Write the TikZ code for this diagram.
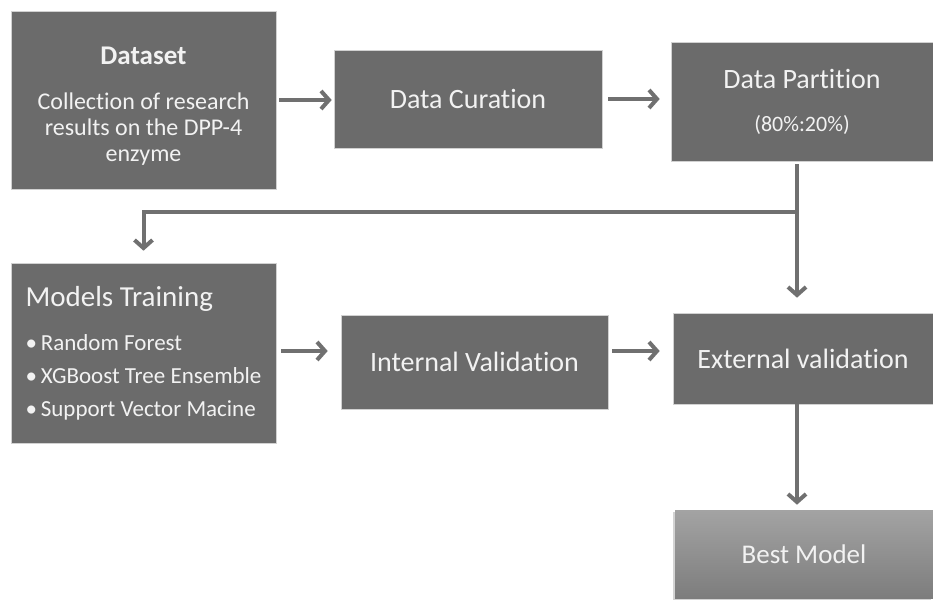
\documentclass[tikz,border=0pt]{standalone}
\usepackage{fontspec}
\setmainfont{Carlito}[Ligatures=NoCommon]
\usetikzlibrary{arrows.meta,shadows}
\definecolor{boxgray}{HTML}{6B6B6B}
\definecolor{arrowgray}{HTML}{707070}
\tikzset{
  stepbox/.style={fill=boxgray, draw=black!18, line width=0.6pt, text=white!95!black,
    inner sep=0pt, font=\fontsize{28}{33}\selectfont},
  flow/.style={draw=arrowgray, line width=4pt, -{Straight Barb[length=8pt,width=18pt]}},
}
\begin{document}
\begin{tikzpicture}[x=1pt,y=-1pt]
\useasboundingbox (0,0) rectangle (933,599);
% top row
\node[stepbox, minimum width=265pt, minimum height=178pt, align=center, font=\fontsize{24}{26}\selectfont] (dataset) at (143.5,100)
  {\rule{0pt}{30pt}{\fontsize{27}{30}\selectfont\bfseries Dataset}\\[19pt]
   Collection of research\\results on the DPP-4\\enzyme};
\node[stepbox, minimum width=268pt, minimum height=98pt] (curation) at (468,99) {Data Curation};
\node[stepbox, minimum width=262pt, minimum height=119pt, align=center] (partition) at (802,101.5)
  {Data Partition\\[10pt]{\fontsize{22}{26}\selectfont (80\%:20\%)}};
% middle row
\node[stepbox, minimum width=265pt, minimum height=180pt, align=left, font=\fontsize{23}{33}\selectfont] (training) at (143.5,353)
  {{\fontsize{29}{33}\selectfont Models Training}\\[11pt]
   \textbullet\,Random Forest\\
   \textbullet\,XGBoost Tree Ensemble\\
   \textbullet\,Support Vector Macine};
\node[stepbox, minimum width=267pt, minimum height=94pt] (internal) at (474.5,362) {Internal Validation};
\node[stepbox, minimum width=260pt, minimum height=91pt] (external) at (803,358.5) {External validation};
% result
\node[stepbox, draw=none, top color=black!36, bottom color=black!51, drop shadow={shadow xshift=-2pt, shadow yshift=-2pt, opacity=0.35},
  minimum width=258pt, minimum height=88pt, font=\fontsize{27}{32}\selectfont] (best) at (804,554) {Best Model};

\coordinate (row) at (0,351);
\coordinate (split) at (797,212);
\draw[flow, shorten <=3pt, shorten >=2pt] (dataset.east) -- (curation.west |- dataset.east);
\draw[flow, shorten <=6pt, shorten >=11pt] (curation.east) -- (partition.west |- curation.east);
\draw[flow, shorten <=3pt, shorten >=15pt] (partition.south -| split) -- (split |- external.north);
\draw[flow, shorten >=12pt] (split) -| (training.north);
\draw[flow, shorten <=5pt, shorten >=13pt] (training.east |- row) -- (internal.west |- row);
\draw[flow, shorten <=4pt, shorten >=13pt] (internal.east |- row) -- (external.west |- row);
\draw[flow, shorten >=5pt] (external.south -| split) -- (best.north -| split);
\end{tikzpicture}
\end{document}
